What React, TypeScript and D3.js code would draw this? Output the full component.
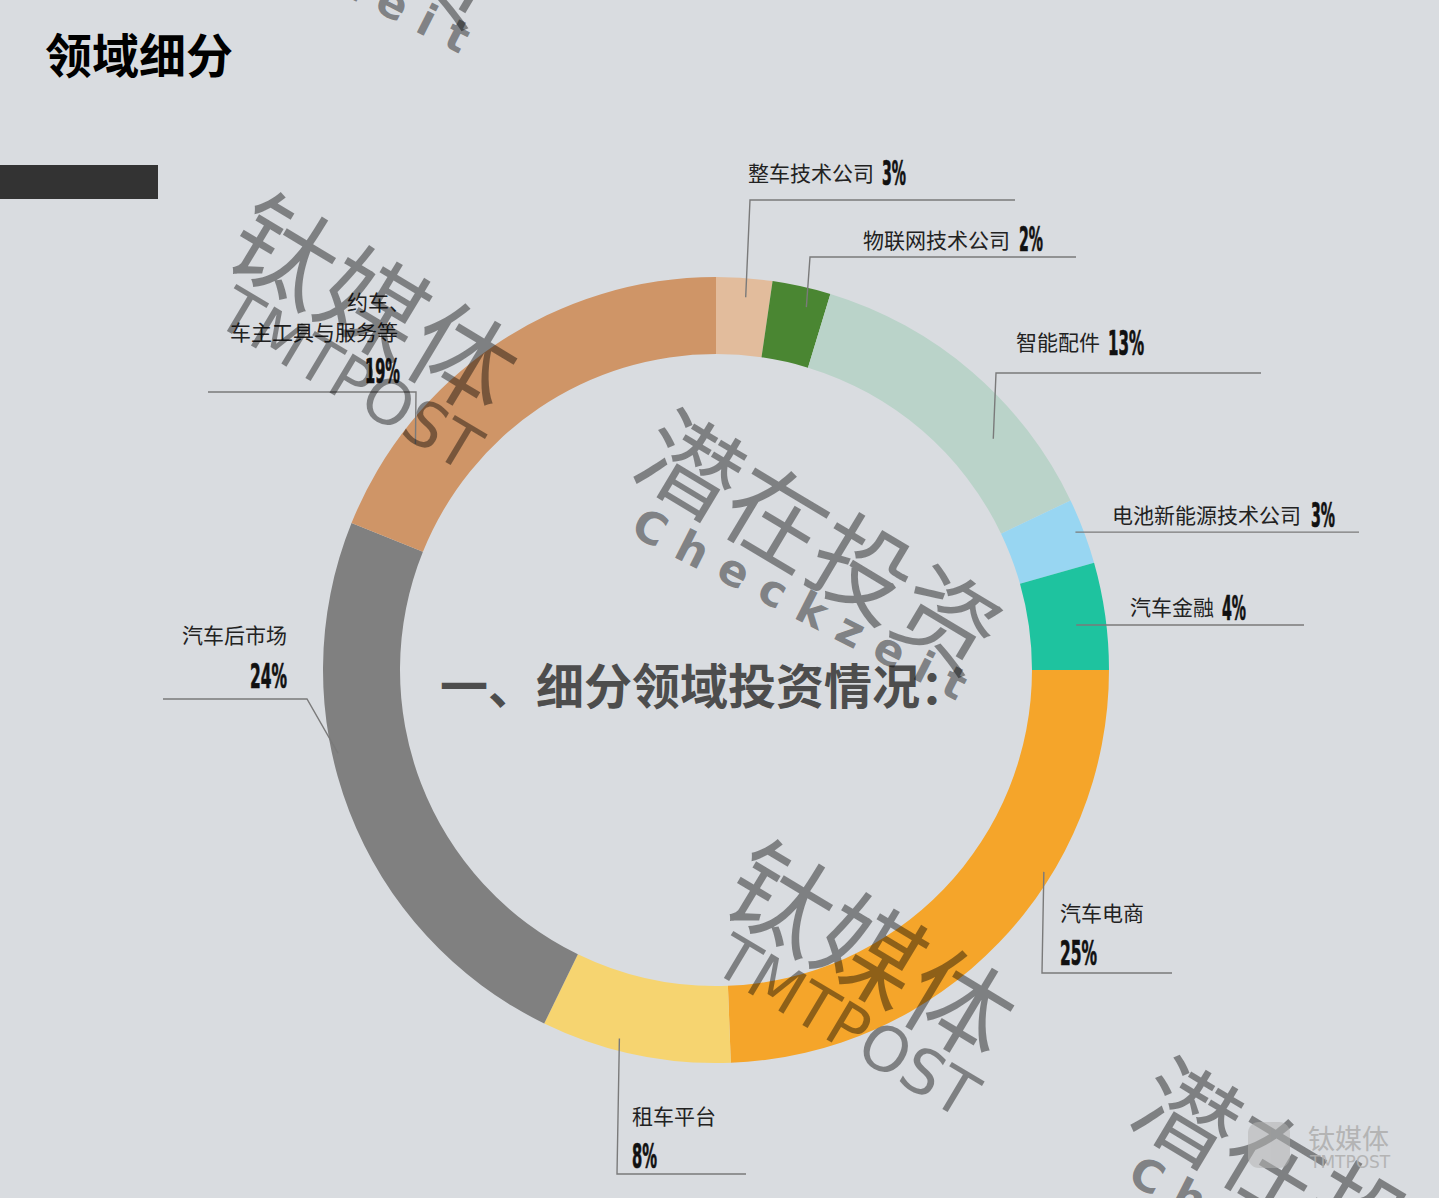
import * as d3 from 'd3'

const W = 1439
const H = 1198
const cx = 716
const cy = 670

// slices, clockwise from 12 o'clock
const categories = [
  '整车技术公司',
  '物联网技术公司',
  '智能配件',
  '电池新能源技术公司',
  '汽车金融',
  '汽车电商',
  '租车平台',
  '汽车后市场',
  '约车、\n车主工具与服务等',
]
// arc shares as drawn in the ring
const shares = [2.3, 2.4, 13.2, 2.7, 4.4, 24.4, 7.8, 23.9, 18.9]
// percentages as printed on the labels
const pctLabels = ['3%', '2%', '13%', '3%', '4%', '25%', '8%', '24%', '19%']
const colors = ['#e2bc9c', '#4a8632', '#bad3c9', '#98d6f2', '#1ec39f', '#f5a52a', '#f6d470', '#808080', '#cf9567']

// where the leader starts inside its slice (fraction of the slice angle, radius)
const leaderT = [0.55, 0.66, 0.7, 0.47, 0.55, 0.36, 0.6, 0.6, 0.22]
const leaderR = [374, 374, 361, 385, 363, 385, 381, 387, 376]

type Pos = { x: number; y: number; anchor?: 'start' | 'end' }
const labelLayout: { elbow: [number, number] | null; endX: number; names: Pos[]; pct: Pos & { w: number } }[] = [
  { elbow: [750, 200], endX: 1015, names: [{ x: 748, y: 181 }], pct: { x: 882, y: 185, w: 24 } },
  { elbow: [810, 257], endX: 1076, names: [{ x: 863, y: 248 }], pct: { x: 1019, y: 251, w: 24 } },
  { elbow: [996, 373], endX: 1261, names: [{ x: 1016, y: 350 }], pct: { x: 1108, y: 355, w: 36 } },
  { elbow: null, endX: 1359, names: [{ x: 1112, y: 523 }], pct: { x: 1311, y: 527, w: 24 } },
  { elbow: null, endX: 1304, names: [{ x: 1130, y: 615 }], pct: { x: 1222, y: 620, w: 24 } },
  { elbow: [1042, 973], endX: 1172, names: [{ x: 1060, y: 921 }], pct: { x: 1060, y: 965, w: 37 } },
  { elbow: [617, 1174], endX: 746, names: [{ x: 632, y: 1124 }], pct: { x: 632, y: 1168, w: 25 } },
  { elbow: [307, 699], endX: 163, names: [{ x: 287, y: 643, anchor: 'end' }], pct: { x: 250, y: 688, w: 37 } },
  {
    elbow: [416, 392],
    endX: 208,
    names: [
      { x: 347, y: 310 },
      { x: 398, y: 340, anchor: 'end' },
    ],
    pct: { x: 365, y: 383, w: 35 },
  },
]

// watermark tiles
const wmZh = ['钛媒体', '潜在投资']
const wmEn = ['TMTPOST', 'Checkzeit']
const wmTiles = [
  { kind: 0, x: 288, y: 245 },
  { kind: 0, x: 785, y: 892 },
  { kind: 1, x: 694, y: 460 },
  { kind: 1, x: 1191, y: 1108 },
  { kind: 1, x: 197, y: -187 },
]

const cjk = "'Noto Sans CJK SC', 'Noto Sans', sans-serif"
const narrow = "'Liberation Sans Narrow', 'DejaVu Sans Condensed', sans-serif"

function Watermark({ kind, x, y }: { kind: number; x: number; y: number }) {
  const zhSize = kind === 0 ? 104 : 100
  return (
    <g transform={`translate(${x},${y}) rotate(31)`} fill="#000" fillOpacity={0.42}>
      <text x={-zhSize / 2} y={0} dominantBaseline="central" fontFamily={cjk} fontSize={zhSize}>
        {wmZh[kind]}
      </text>
      {kind === 0 ? (
        <text x={-24} y={105} fontFamily="'DejaVu Sans', sans-serif" fontSize={62}>
          {wmEn[kind]}
        </text>
      ) : (
        <g transform="translate(-3,80) rotate(-4)">
          <text x={-16} y={16} fontFamily="'DejaVu Sans', sans-serif" fontWeight="bold" fontSize={44} letterSpacing={16}>
            {wmEn[kind]}
          </text>
        </g>
      )}
    </g>
  )
}

export default function App() {
  const pie = d3.pie<number>().sort(null).value((d) => d)
  const arcs = pie(shares)
  const arc = d3.arc<d3.PieArcDatum<number>>().innerRadius(316).outerRadius(393)
  const line = d3.line()

  return (
    <svg width={W} height={H} style={{ position: 'absolute', left: 0, top: 0 }}>
      <rect width={W} height={H} fill="#d9dce0" />

      <text x={45} y={73} fontFamily={cjk} fontWeight="bold" fontSize={47} fill="#000">
        领域细分
      </text>
      <rect x={0} y={165} width={158} height={34} fill="#333" />

      <g transform={`translate(${cx},${cy})`}>
        {arcs.map((a, i) => (
          <path key={i} d={arc(a) || ''} fill={colors[i]} />
        ))}
      </g>

      {arcs.map((a, i) => {
        const lay = labelLayout[i]
        const ang = a.startAngle + leaderT[i] * (a.endAngle - a.startAngle)
        const [px, py] = d3.pointRadial(ang, leaderR[i])
        const start: [number, number] = [cx + px, cy + py]
        const pts: [number, number][] = lay.elbow
          ? [start, lay.elbow, [lay.endX, lay.elbow[1]]]
          : [start, [lay.endX, start[1]]]
        const names = categories[i].split('\n')
        return (
          <g key={i}>
            <path d={line(pts) || ''} fill="none" stroke="#7a7a7a" strokeWidth={1.4} />
            {names.map((n, j) => (
              <text
                key={j}
                x={lay.names[j].x}
                y={lay.names[j].y}
                textAnchor={lay.names[j].anchor || 'start'}
                fontFamily={cjk}
                fontSize={21}
                fill="#222"
              >
                {n}
              </text>
            ))}
            <text
              x={lay.pct.x}
              y={lay.pct.y}
              textLength={lay.pct.w}
              lengthAdjust="spacingAndGlyphs"
              fontFamily={narrow}
              fontWeight="bold"
              fontSize={33}
              fill="#111"
              stroke="#111"
              strokeWidth={0.7}
            >
              {pctLabels[i]}
            </text>
          </g>
        )
      })}

      <text x={440} y={704} fontFamily={cjk} fontWeight="bold" fontSize={48} fill="#4d4d4d">
        一、细分领域投资情况：
      </text>

      {wmTiles.map((t, i) => (
        <Watermark key={i} kind={t.kind} x={t.x} y={t.y} />
      ))}

      <g opacity={0.9}>
        <rect x={1248} y={1122} width={42} height={46} rx={11} fill="#b3b3b3" fillOpacity={0.6} />
        <text x={1308} y={1149} fontFamily={cjk} fontSize={27} fill="#b0b0b0">
          钛媒体
        </text>
        <text x={1310} y={1168} fontFamily="'DejaVu Sans', sans-serif" fontSize={17} fill="#b0b0b0">
          TMTPOST
        </text>
      </g>
    </svg>
  )
}
